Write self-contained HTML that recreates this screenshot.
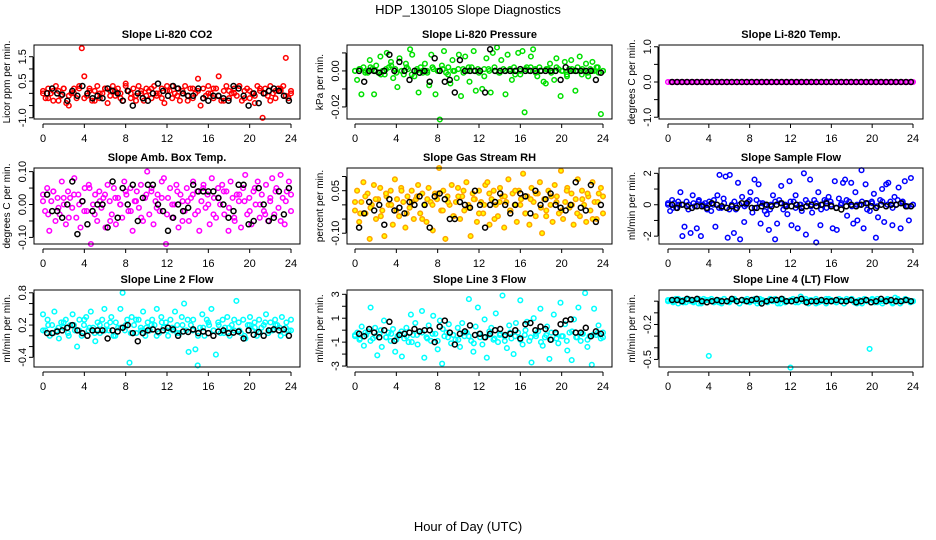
<!DOCTYPE html>
<html><head><meta charset="utf-8"><style>
html,body{margin:0;padding:0;background:#fff;}
svg{display:block;font-family:"Liberation Sans",sans-serif;}
</style></head><body>
<svg id="chart" width="936" height="540" viewBox="0 0 936 540" xmlns="http://www.w3.org/2000/svg">
<rect width="936" height="540" fill="#fff"/>
<text x="468" y="14" text-anchor="middle" font-size="13">HDP_130105  Slope Diagnostics</text>
<text x="468" y="531" text-anchor="middle" font-size="13">Hour of Day (UTC)</text>
</svg>
<script>
const xTicks=[0,4,8,12,16,20,24];
const titles=["Slope Li-820 CO2","Slope Li-820 Pressure","Slope Li-820 Temp.","Slope Amb. Box Temp.","Slope Gas Stream RH","Slope Sample Flow","Slope Line 2 Flow","Slope Line 3 Flow","Slope Line 4 (LT) Flow"];
const yTitles=["Licor ppm per min.","kPa per min.","degrees C per min.","degrees C per min.","percent per min.","ml/min per min.","ml/min per min.","ml/min per min.","ml/min per min."];
const yRanges=[[-1.05,1.98],[-0.0267,0.0144],[-1.05,1.05],[-0.12,0.111],[-0.138,0.13],[-2.5,2.34],[-0.58,0.852],[-3.08,3.36],[-0.565,0.096]];
const yTickVals=[[-1,-0.5,0,0.5,1,1.5],[-0.02,-0.01,0,0.01],[-1,-0.5,0,0.5,1],[-0.1,-0.05,0,0.05,0.1],[-0.1,-0.05,0,0.05,0.1],[-2,-1,0,1,2],[-0.4,-0.2,0,0.2,0.4,0.6,0.8],[-3,-2,-1,0,1,2,3],[-0.5,-0.4,-0.3,-0.2,-0.1,0]];
const yTickLabels=[["-1.0","","","0.5","","1.5"],["-0.02","","0.00",""],["-1.0","","0.0","","1.0"],["-0.10","","0.00","","0.10"],["-0.10","","","0.05",""],["-2","","0","","2"],["-0.4","","","0.2","","","0.8"],["-3","","-1","","1","","3"],["-0.5","","","-0.2","",""]];
const colors=["#ff0000","#00e000","#ff00ff","#ff00ff","#ffa500","#0000ff","#00ffff","#00ffff","#00ffff"];

const co2Col=[0.1,-0.2,0.2,0.0,-0.3,0.3,0.1,-0.1,0.2,-0.4,-0.5,0.0,0.2,-0.2,0.3,1.85,0.7,-0.1,0.2,-0.3,0.1,0.3,-0.2,0.0,0.2,-0.4,0.1,0.3,-0.1,0.2,0.0,-0.3,0.4,0.1,-0.2,0.2,-0.1,0.3,0.0,-0.3,0.2,0.1,-0.2,0.3,-0.1,0.0,0.2,-0.4,0.3,0.1,-0.2,0.0,0.2,-0.3,0.1,0.3,-0.1,0.2,-0.2,0.0,0.6,-0.5,0.2,-0.1,0.3,0.0,-0.2,0.2,0.7,-0.3,0.1,0.3,-0.2,0.0,0.2,-0.1,0.3,-0.3,0.1,0.2,-0.2,0.0,-0.4,0.3,0.1,-1.0,0.2,-0.1,0.3,0.0,-0.2,0.2,0.1,0.3,1.45,-0.2,0.1];
const co2Core=[0.0,-0.2,0.1,-0.3,0.2,-0.1,0.0,0.2,-0.2,0.1,-0.3,0.0,0.2,-0.1,0.1,-0.2,0.3,0.0,-0.3,0.1,-0.1,0.2,0.0,-0.2,0.1,0.3,-0.1,0.0,-0.3,0.2,0.1,-0.2,0.0,0.2,-0.1,-0.3,0.1,0.0,0.3,-0.2,0.1,-0.1,0.2,0.0,-0.3,0.1,0.2,-0.1,0.0];
const co2Blk=[0.0,0.2,0.0,-0.05,-0.3,0.1,-0.1,0.3,0.0,-0.2,-0.1,-0.2,0.2,0.1,0.0,-0.3,0.1,-0.5,0.0,-0.2,-0.3,0.0,0.4,0.1,-0.1,0.3,0.2,0.0,-0.1,-0.1,0.2,-0.2,-0.3,-0.1,-0.1,-0.2,-0.3,0.3,0.2,-0.1,-0.5,0.0,-0.4,0.0,0.1,0.2,0.1,-0.1,-0.3];

const presCol=[0.000,-0.005,0.001,-0.013,0.002,0.000,-0.001,0.006,0.001,-0.013,0.003,-0.001,0.008,0.000,-0.002,0.010,0.002,0.005,-0.004,0.001,-0.009,0.007,0.000,-0.002,0.004,0.001,0.012,0.009,-0.003,0.000,-0.012,0.002,-0.001,0.004,0.000,-0.008,0.009,0.001,-0.013,0.000,-0.027,0.003,0.011,-0.001,0.002,-0.007,0.006,0.000,-0.004,0.009,-0.014,0.001,0.008,0.000,-0.006,0.002,0.011,-0.011,0.001,0.000,-0.010,-0.003,0.007,0.001,-0.012,0.010,0.000,0.013,-0.001,0.006,0.001,-0.013,0.009,0.000,-0.005,0.002,0.000,0.010,-0.002,0.011,-0.023,0.002,0.000,0.008,0.012,0.001,-0.003,0.002,0.000,-0.006,-0.007,0.001,0.004,0.000,-0.005,0.007,0.001,-0.014,0.000,0.005,-0.003,0.001,0.006,0.000,-0.011,0.002,0.008,-0.002,0.000,0.004,-0.003,0.001,0.005,0.000,0.002,-0.001,-0.024,0.000];
const presCore=[0.000,0.001,-0.001,0.002,0.000,-0.002,0.001,0.003,-0.001,0.000,0.002,-0.002,0.001,0.000,-0.001,0.002,0.000,0.001,-0.002,0.000,0.001,-0.001,0.002,0.000,-0.001,0.001,0.000,0.002,-0.001,0.000,0.001,-0.002,0.000,0.001,0.002,-0.001,0.000,0.001,-0.001,0.002,0.000,-0.002,0.001,0.000,0.001,-0.001,0.000,0.002,0.000];
const presBlk=[0.0,-0.006,0.0,0.0,-0.001,0.0,0.009,0.0,0.005,0.0,-0.005,0.0,-0.001,0.0,-0.006,0.007,0.0,-0.006,-0.005,-0.012,0.006,0.0,0.0,0.0,0.0,-0.012,0.012,0.0,0.0,0.0,0.0,0.0,0.001,0.0,0.0,0.0,0.0,0.0,0.0,0.0,-0.005,0.002,0.0,0.0,0.0,0.0,0.0,-0.005,-0.001];

const tempCol=[0,0,0,0,0,0,0,0,0,0,0,0,0,0,0,0,0,0,0,0,0,0,0,0,0,0,0,0,0,0,0,0,0,0,0,0,0,0,0,0,0,0,0,0,0,0,0,0,0,0,0,0,0,0,0,0,0,0,0,0,0,0,0,0,0,0,0,0,0,0,0,0,0,0,0,0,0,0,0,0,0,0,0,0,0,0,0,0,0,0,0,0,0,0,0,0,0];
const tempCore=[];
const tempBlk=[0,0,0,0,0,0,0,0,0,0,0,0,0,0,0,0,0,0,0,0,0,0,0,0,0,0,0,0,0,0,0,0,0,0,0,0,0,0,0,0,0,0,0,0,0,0,0,0,0];

const ambCol=[0.03,-0.02,0.05,-0.08,0.01,0.04,-0.05,0.02,-0.03,0.07,0.00,-0.06,0.04,0.02,-0.01,0.08,-0.04,0.03,-0.07,0.01,0.05,-0.02,0.06,-0.12,0.00,0.03,-0.05,0.04,-0.01,0.02,-0.07,0.06,0.01,-0.03,0.05,-0.06,0.02,0.00,-0.04,0.07,0.03,-0.02,0.05,-0.08,0.01,0.04,-0.01,0.06,-0.05,0.02,0.10,-0.03,0.04,-0.06,0.01,0.03,-0.02,0.07,0.08,-0.12,0.02,0.05,-0.04,0.00,0.06,-0.07,0.03,0.01,-0.02,0.05,-0.05,0.02,0.07,-0.03,0.04,-0.08,0.01,0.06,-0.01,0.03,-0.06,0.08,0.02,-0.04,0.05,0.00,0.06,-0.03,0.04,-0.08,0.07,0.02,-0.05,0.03,0.01,-0.07,0.05,0.09,-0.03,0.02,-0.06,0.04,0.00,0.07,-0.04,0.03,-0.02,0.06,-0.05,0.01,0.08,-0.03,0.05,-0.01,0.09,0.02,-0.06,0.04,0.07,-0.02];
const ambCore=[0.01,-0.03,0.04,-0.01,0.02,-0.04,0.03,0.00,-0.02,0.05,-0.03,0.01,0.03,-0.05,0.02,0.00,0.04,-0.02,0.01,-0.04,0.03,0.05,-0.01,0.02,-0.03,0.00,0.04,-0.05,0.01,0.03,-0.02,0.05,0.00,-0.03,0.02,0.04,-0.01,-0.04,0.03,0.01,-0.02,0.05,0.00,-0.03,0.02,0.04,-0.05,0.01,0.03];
const ambBlk=[0.03,-0.02,-0.02,-0.04,0.0,0.07,-0.09,0.01,-0.06,-0.02,0.0,0.00,-0.07,0.07,-0.04,0.05,0.00,0.06,-0.05,0.02,0.06,0.06,0.00,-0.02,-0.08,-0.04,0.0,-0.02,-0.01,0.06,0.04,0.04,0.04,0.04,0.02,0.00,-0.04,-0.02,0.06,0.06,-0.06,-0.05,0.05,0.0,-0.05,-0.04,0.04,-0.03,0.05];

const rhCol=[-0.02,0.05,-0.06,0.01,0.08,-0.03,0.04,-0.12,0.00,0.07,-0.05,0.02,0.06,-0.02,-0.11,0.03,0.00,0.05,-0.07,0.09,0.02,-0.04,0.06,0.01,-0.08,0.03,-0.01,0.05,-0.05,0.02,0.07,-0.03,0.04,0.00,-0.06,0.06,0.01,-0.09,0.04,0.02,0.13,-0.02,0.05,-0.12,0.03,0.00,0.07,-0.04,0.01,0.06,-0.05,0.03,-0.02,0.08,0.00,-0.11,0.04,0.02,-0.06,0.05,0.01,-0.03,0.07,0.08,-0.07,0.02,0.05,0.00,-0.04,0.06,0.03,-0.08,0.01,0.09,-0.02,0.04,0.00,-0.06,0.05,0.02,0.11,-0.03,0.03,-0.07,0.06,0.01,-0.04,0.04,0.08,-0.10,0.02,-0.02,0.05,0.00,-0.06,0.07,0.03,-0.03,0.12,-0.05,0.01,0.06,-0.01,0.04,-0.07,0.02,0.09,-0.04,0.05,0.00,-0.06,0.03,-0.02,0.08,0.01,-0.05,0.04,0.06,-0.03];
const rhCore=[0.01,-0.03,0.03,-0.01,0.02,-0.04,0.04,0.00,-0.02,0.05,-0.03,0.01,0.03,-0.05,0.02,0.00,0.04,-0.02,0.01,-0.04,0.03,0.05,-0.01,0.02,-0.03,0.00,0.04,-0.05,0.01,0.03,-0.02,0.05,0.00,-0.03,0.02,0.04,-0.01,-0.04,0.03,0.01,-0.02,0.05,0.00,-0.03,0.02,0.04,-0.05,0.01,0.03];
const rhBlk=[-0.08,-0.03,0.01,-0.02,0.00,-0.07,0.02,-0.02,-0.01,-0.03,0.01,0.00,0.03,0.00,-0.08,0.03,0.04,0.02,-0.05,-0.05,0.01,0.00,-0.01,0.05,0.00,-0.08,0.00,0.01,0.04,0.00,-0.03,0.00,0.04,0.03,-0.03,0.05,0.00,0.02,0.04,0.00,-0.01,-0.02,0.00,0.08,-0.01,-0.02,0.07,-0.06,0.00];

const sfCol=[0.0,-0.4,0.3,0.1,-0.2,0.0,0.8,-2.0,-1.4,0.2,0.0,-1.8,0.6,-0.1,-1.5,0.3,-2.0,0.0,0.1,-0.3,0.2,-0.4,0.0,-1.4,0.6,1.9,-0.2,0.4,1.8,-2.1,1.9,0.0,-1.8,-0.3,1.4,-2.2,0.5,-1.1,0.0,0.2,0.8,-0.5,1.6,0.3,1.3,-1.2,0.1,-0.4,-0.6,-1.6,0.0,0.6,-2.2,-1.2,0.3,1.2,-0.3,0.0,-0.6,1.5,-1.3,0.2,0.6,-1.5,0.0,-0.4,2.0,-1.9,0.1,1.6,-0.5,0.3,-2.4,0.8,-1.3,0.0,0.3,-0.2,0.5,0.2,-1.5,1.5,-1.6,0.4,0.0,1.4,1.6,-0.7,0.2,1.4,-1.2,0.8,-1.0,0.0,2.2,-1.5,1.3,0.1,-0.4,0.2,0.7,-2.1,-0.8,0.3,1.0,-1.1,1.3,1.4,0.2,-1.3,0.5,0.0,1.1,-1.5,0.2,1.5,-0.1,-1.0,1.7,0.0];
const sfCore=[0.1,-0.2,0.2,0.0,-0.3,0.1,0.2,-0.1,0.0,0.3,-0.2,0.1,-0.3,0.2,0.0,-0.1,0.3,-0.2,0.1,0.0,-0.3,0.2,0.1,-0.1,0.2,-0.2,0.0,0.3,-0.1,0.1,-0.3,0.2,0.0,-0.2,0.1,0.3,-0.1,0.0,0.2,-0.3,0.1,-0.1,0.2,0.0,-0.2,0.3,0.1,-0.1,0.0];
const sfBlk=[0.0,-0.2,0.0,-0.1,-0.2,-0.1,-0.1,-0.2,0.1,0.0,-0.1,-0.2,-0.1,-0.2,0.1,0.1,-0.2,-0.2,-0.1,0.0,-0.1,0.0,0.1,-0.1,-0.1,0.0,-0.2,-0.1,0.0,-0.1,0.0,0.1,-0.1,-0.2,-0.3,-0.1,0.0,-0.1,0.0,0.1,-0.1,-0.2,0.0,-0.1,0.0,0.0,0.1,-0.1,-0.1];

const l2Col=[0.4,0.1,0.3,0.0,0.2,0.45,0.1,-0.05,0.25,0.15,0.3,0.05,0.2,0.4,0.1,-0.2,0.3,0.0,0.2,0.35,0.1,0.45,0.15,-0.1,0.25,0.05,0.3,0.5,0.2,0.1,0.35,0.0,0.25,0.15,0.5,0.8,0.1,0.3,-0.5,0.35,0.2,0.05,0.3,0.15,0.45,0.0,0.25,0.1,0.3,0.2,0.5,0.05,0.35,0.15,0.25,0.0,0.3,0.1,0.45,0.2,0.05,0.35,0.6,0.1,-0.3,0.2,0.3,-0.25,-0.55,0.15,0.4,0.0,0.3,0.2,0.5,0.1,-0.35,0.25,0.05,0.3,0.15,0.35,0.0,0.2,0.1,0.65,0.25,0.05,0.3,-0.05,0.2,0.35,0.1,0.25,0.0,0.3,0.15,0.2,0.4,0.05,0.25,0.1,0.3,0.2,0.15,0.35,0.05,0.25,0.1,0.3];
const l2Core=[0.1,0.2,0.05,0.15,0.25,0.0,0.2,0.1,0.3,0.15,0.05,0.2,0.1,0.25,0.0,0.15,0.2,0.05,0.3,0.1,0.15,0.2,0.0,0.25,0.1,0.15,0.05,0.2,0.3,0.1,0.0,0.15,0.25,0.1,0.2,0.05,0.15,0.3,0.1,0.0,0.2,0.15,0.05,0.25,0.1,0.2,0.0,0.15,0.1];
const l2Blk=[0.05,0.05,0.08,0.1,0.15,0.2,0.1,0.05,0.0,0.1,0.1,0.1,-0.05,0.1,0.08,0.15,0.2,0.05,-0.1,0.05,0.1,0.12,0.08,0.1,0.15,0.12,0.0,0.08,0.07,0.12,0.05,0.08,0.05,0.0,0.08,0.1,0.05,0.06,0.08,-0.05,0.1,0.02,0.07,0.0,0.1,0.12,0.1,0.12,0.0];

const l3Col=[-0.5,-0.2,-0.8,0.3,-1.3,-0.4,-0.1,1.9,-0.7,0.2,-2.1,-0.3,-1.4,0.8,-0.6,-0.2,-0.9,0.1,-1.8,-0.5,-0.3,-2.2,-0.7,0.2,-1.0,1.3,-0.4,0.6,-1.2,-0.1,1.6,-2.3,-0.6,0.4,-0.9,1.2,-0.3,-1.6,0.8,-2.8,-0.5,-0.2,0.5,-1.1,-0.4,-0.8,0.2,-1.4,0.6,-0.5,-0.2,2.6,-0.9,-1.8,0.3,1.9,-0.6,-1.2,0.9,-2.3,-0.4,0.2,-0.8,1.4,-1.0,-0.3,2.9,-0.5,-1.5,0.4,-0.7,-2.0,0.6,-0.2,2.5,-1.2,-0.4,0.7,-0.9,-2.7,1.0,-0.5,-0.1,1.8,-1.3,-0.6,0.3,-2.4,-0.8,1.3,-0.3,-1.1,2.3,-0.5,0.5,-1.7,-0.2,-2.5,0.9,-0.6,1.9,-0.9,-0.3,3.1,-1.4,-0.5,-2.9,1.8,-0.4,0.4,-0.7,-0.2];
const l3Core=[-0.4,-0.7,-0.2,-0.9,-0.5,0.0,-0.6,-0.3,-0.8,-0.1,-0.5,-1.0,-0.4,-0.2,-0.7,-0.3,-0.9,0.1,-0.6,-0.4,-0.8,-0.2,-0.5,-1.1,-0.3,-0.6,-0.1,-0.7,-0.4,-0.9,-0.2,-0.5,-0.8,0.0,-0.6,-0.3,-1.0,-0.4,-0.2,-0.7,-0.5,-0.9,-0.1,-0.6,-0.3,-0.8,-0.4,-0.2,-0.6];
const l3Blk=[-0.3,-0.5,0.1,-0.2,-0.6,0.0,0.7,-0.9,-0.4,-0.3,-0.2,0.1,-0.1,0.0,0.0,-1.0,0.3,0.8,-0.2,-1.2,-0.3,-0.1,0.4,-0.4,-0.3,-0.6,-0.3,0.0,0.1,-0.4,-0.3,0.0,-0.7,0.5,0.6,0.0,0.3,0.1,-0.8,-0.2,0.5,0.8,0.9,-0.2,-0.2,0.2,-0.5,-0.1,-0.3];

const l4Col=[0.0,0.01,-0.01,0.02,-0.02,0.0,0.01,-0.01,0.02,0.0,-0.01,0.01,0.02,-0.02,0.0,0.01,-0.47,0.02,-0.01,0.0,0.01,-0.02,0.02,0.0,-0.01,0.01,0.02,0.0,-0.02,0.01,0.0,0.02,-0.01,0.01,0.0,-0.02,0.02,0.01,0.0,-0.01,0.02,0.0,0.01,-0.02,0.01,0.02,-0.01,0.0,-0.57,0.02,0.01,-0.01,0.04,0.0,0.02,-0.02,0.01,0.0,0.02,-0.01,0.01,0.0,-0.02,0.02,0.01,0.0,-0.01,0.02,0.01,-0.02,0.0,0.01,0.02,-0.01,0.0,0.01,-0.02,0.02,0.0,-0.41,0.01,-0.01,0.02,0.0,-0.02,0.01,0.02,0.0,-0.01,0.03,0.01,-0.02,0.0,0.02,0.01,-0.01,0.0];
const l4Core=[0.01,0.0,0.02,-0.01,0.01,0.0,-0.02,0.02,0.01,0.0,-0.01,0.02,0.0,0.01,-0.02,0.01,0.0,0.02,-0.01,0.0,0.01,0.02,-0.02,0.0,0.01,-0.01,0.02,0.0,0.01,-0.02,0.0,0.02,0.01,-0.01,0.0,0.02,0.01,-0.02,0.0,0.01,0.02,-0.01,0.0,0.01,-0.02,0.02,0.0,0.01,0.0];
const l4Blk=[0.01,0.01,0.0,0.02,0.01,0.02,0.0,-0.01,0.0,0.01,0.0,0.0,0.02,0.0,0.01,0.0,0.01,0.02,-0.02,0.0,0.01,0.01,0.02,0.0,0.0,0.01,0.02,-0.01,0.0,0.0,0.01,0.0,0.0,0.01,0.0,0.0,0.01,-0.01,0.0,0.01,-0.01,0.0,0.02,0.0,0.01,0.0,0.0,0.01,0.0];

const colSeries=[co2Col,presCol,tempCol,ambCol,rhCol,sfCol,l2Col,l3Col,l4Col];
const coreSeries=[co2Core,presCore,tempCore,ambCore,rhCore,sfCore,l2Core,l3Core,l4Core];
const blkSeries=[co2Blk,presBlk,tempBlk,ambBlk,rhBlk,sfBlk,l2Blk,l3Blk,l4Blk];

const NS="http://www.w3.org/2000/svg";
const svg=document.getElementById('chart');
function mk(tag,attrs,parent){const e=document.createElementNS(NS,tag);for(const k in attrs)e.setAttribute(k,attrs[k]);parent.appendChild(e);return e;}
const boxLefts=[34,347,659], boxW=[266,265,264], x0s=[43,355,668], x24s=[291,603,913];
const boxTops=[45,168,290], boxH=[74,76,77];

for(let p=0;p<9;p++){
  const c=p%3, r=Math.floor(p/3);
  const L=boxLefts[c], W=boxW[c], T=boxTops[r], H=boxH[r];
  const [ymin,ymax]=yRanges[p];
  const xs=h=>x0s[c]+(x24s[c]-x0s[c])*h/24;
  const ys=v=>T+H-(v-ymin)/(ymax-ymin)*H;
  const g=mk('g',{},svg);
  
  
  const t=mk('text',{x:(L+W/2),y:T-7,'text-anchor':'middle','font-size':'11','font-weight':'bold'},g);
  t.textContent=titles[p];
  
  
  const yt=mk('text',{x:0,y:0,'text-anchor':'middle','font-size':'10',transform:`translate(${L-24},${T+H/2}) rotate(-90)`},g);
  yt.textContent=yTitles[p];
  
  
  const pts=mk('g',{fill:'none'},g);
  
  
  const col=colSeries[p], core=coreSeries[p], blk=blkSeries[p];
  const fillC = p===4 ? '#ffff00' : 'none';
  [col,core].forEach(arr=>{
    arr.forEach((v,i)=>{
      const h=i*24/(arr.length-1);
      const cc=mk('circle',{cx:xs(h).toFixed(1),cy:ys(v).toFixed(1),r:2.3,stroke:colors[p],'stroke-width':1.5,fill:fillC},pts);
      
      
    });
  });
  blk.forEach((v,i)=>{
    const h=0.4+i*23.4/(blk.length-1);
    const cc=mk('circle',{cx:xs(h).toFixed(1),cy:ys(v).toFixed(1),r:2.5,stroke:'#000','stroke-width':1.5,fill:'none'},pts);
    
    
  });
  const b=mk('rect',{x:L,y:T,width:W,height:H,fill:'none',stroke:'#000','stroke-width':1},g);
  
  
  const xa=mk('g',{stroke:'#000','stroke-width':1},g);
  
  
  const ay=T+H+5;
  mk('line',{x1:xs(0),x2:xs(24),y1:ay,y2:ay},xa);
  xTicks.forEach(tk=>{
    mk('line',{x1:xs(tk),x2:xs(tk),y1:ay,y2:ay+4},xa);
    const tl=mk('text',{x:xs(tk),y:ay+18,'text-anchor':'middle','font-size':'11',stroke:'none',fill:'#000'},xa);
    tl.textContent=tk;
    
    
  });
  const ya=mk('g',{stroke:'#000','stroke-width':1},g);
  
  
  const tv=yTickVals[p];
  const ax=L-1;
  mk('line',{x1:ax,x2:ax,y1:ys(tv[0]),y2:ys(tv[tv.length-1])},ya);
  tv.forEach((v,i)=>{
    mk('line',{x1:ax-4,x2:ax,y1:ys(v),y2:ys(v)},ya);
    const lab=yTickLabels[p][i];
    if(lab){
      const tl=mk('text',{x:0,y:0,'text-anchor':'middle','font-size':'11',stroke:'none',fill:'#000',transform:`translate(${ax-7},${ys(v)}) rotate(-90)`},ya);
      tl.textContent=lab;
      
      
    }
  });
}
</script>
</body></html>
